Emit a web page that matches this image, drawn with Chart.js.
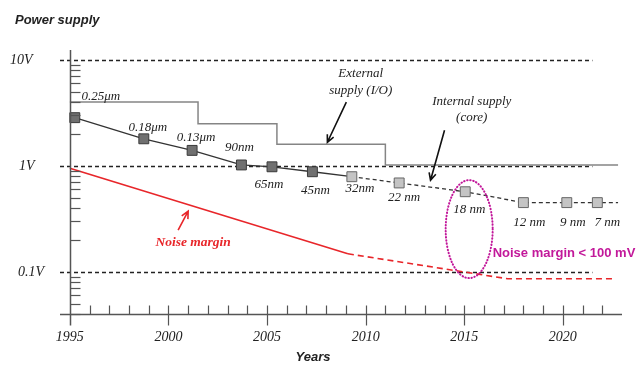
<!DOCTYPE html>
<html lang="en">
<head>
<meta charset="UTF-8" />
<title>Power supply and noise margin</title>
<script src="https://cdn.jsdelivr.net/npm/chart.js"></script>
<style>
  body { margin: 0; background: #fff; }
  #wrap { width: 640px; height: 365px; }
</style>
</head>
<body>
<div id="wrap"><canvas id="chart" width="640" height="365"></canvas></div>
<script>
  // technology nodes on the core supply curve
  const nodeNames = ['0.25μm', '0.18μm', '0.13μm', '90nm', '65nm', '45nm', '32nm', '22 nm', '18 nm', '12 nm', '9 nm', '7 nm'];
  const nodeYears = [1995.25, 1998.75, 2001.2, 2003.7, 2005.25, 2007.3, 2009.3, 2011.7, 2015.05, 2018.0, 2020.2, 2021.75];
  const coreVolts = [2.85, 1.8, 1.4, 1.02, 0.98, 0.88, 0.79, 0.69, 0.57, 0.45, 0.45, 0.45];
  const coreTailYear = 2022.8;
  const firstProjected = 6; // from 32nm on: dashed / light squares

  // external (I/O) supply, stepped
  const ioYears = [1995, 2001.5, 2005.5, 2011.0, 2022.8];
  const ioVolts = [4.0, 2.5, 1.6, 1.02, 1.02];

  // noise margin
  const noiseYears = [1995, 2009.1, 2017.2, 2022.5];
  const noiseVolts = [0.95, 0.148, 0.086, 0.086];

  const yTickVals = [10, 1, 0.1];
  const yTickLabels = ['10V', '1V', '0.1V'];
  const xTickYears = [1995, 2000, 2005, 2010, 2015, 2020];
  const gridEndYear = 2021.5;

  const serif = '"Liberation Serif", "DejaVu Serif", serif';
  const sans = '"Liberation Sans", Arial, sans-serif';

  const coreData = nodeYears.map((yr, i) => ({ x: yr, y: coreVolts[i] }));
  coreData.push({ x: coreTailYear, y: coreVolts[coreVolts.length - 1] });

  function arrow(ctx, x1, y1, x2, y2, color) {
    const a = Math.atan2(y2 - y1, x2 - x1);
    ctx.strokeStyle = color; ctx.lineWidth = 1.6; ctx.setLineDash([]);
    ctx.beginPath(); ctx.moveTo(x1, y1); ctx.lineTo(x2, y2);
    ctx.moveTo(x2 - 8 * Math.cos(a - 0.45), y2 - 8 * Math.sin(a - 0.45));
    ctx.lineTo(x2, y2);
    ctx.lineTo(x2 - 8 * Math.cos(a + 0.45), y2 - 8 * Math.sin(a + 0.45));
    ctx.stroke();
  }

  const decor = {
    id: 'decor',
    beforeDatasetsDraw(chart) {
      const { ctx, scales: { x, y } } = chart;
      ctx.save();
      ctx.strokeStyle = '#222'; ctx.lineWidth = 1.5; ctx.setLineDash([4, 3]);
      yTickVals.forEach(v => {
        const py = Math.round(y.getPixelForValue(v)) + 0.5;
        ctx.beginPath();
        ctx.moveTo(chart.chartArea.left, py);
        ctx.lineTo(x.getPixelForValue(gridEndYear), py);
        ctx.stroke();
      });
      ctx.restore();
    },
    afterDatasetsDraw(chart) {
      const { ctx, chartArea: area, scales: { x, y } } = chart;
      ctx.save();
      const x0 = Math.round(x.getPixelForValue(1995)) + 0.5;
      const yb = Math.round(area.bottom) + 0.5;

      // axes
      ctx.strokeStyle = '#555'; ctx.lineWidth = 1.5; ctx.setLineDash([]);
      ctx.beginPath();
      ctx.moveTo(x0, area.top); ctx.lineTo(x0, yb + 11);
      ctx.moveTo(area.left, yb); ctx.lineTo(area.right, yb);
      ctx.stroke();

      // y minor ticks (inside)
      ctx.lineWidth = 1.2;
      for (let k = -2; k <= 0; k++) {
        for (let m = 2; m <= 9; m++) {
          const v = m * Math.pow(10, k);
          if (v < y.min || v > y.max) continue;
          const py = Math.round(y.getPixelForValue(v)) + 0.5;
          ctx.beginPath(); ctx.moveTo(x0, py); ctx.lineTo(x0 + 10, py); ctx.stroke();
        }
      }
      // x ticks
      for (let yr = 1996; yr <= 2022; yr++) {
        const px = Math.round(x.getPixelForValue(yr)) + 0.5;
        const major = yr % 5 === 0;
        ctx.beginPath(); ctx.moveTo(px, yb - 9); ctx.lineTo(px, major ? yb + 11 : yb); ctx.stroke();
      }

      // tick labels
      ctx.fillStyle = '#222';
      ctx.font = 'italic 14px ' + serif;
      ctx.textBaseline = 'middle';
      ctx.textAlign = 'center';
      xTickYears.forEach(yr => ctx.fillText(String(yr), x.getPixelForValue(yr), yb + 23));
      ctx.textAlign = 'left';
      const yLabelX = [10, 19, 18];
      yTickVals.forEach((v, i) => ctx.fillText(yTickLabels[i], yLabelX[i], y.getPixelForValue(v)));

      // titles
      ctx.font = 'bold italic 13px ' + sans;
      ctx.fillText('Power supply', 15, 20);
      ctx.textAlign = 'center';
      ctx.fillText('Years', 313, 357);

      // node labels
      const offs = [[26, -21], [4, -11], [4, -13], [-2, -17], [-3, 18], [3, 19], [8, 12], [5, 15], [4, 18], [6, 20], [6, 20], [10, 20]];
      const pts = chart.getDatasetMeta(0).data;
      ctx.font = 'italic 13px ' + serif;
      nodeNames.forEach((name, i) => {
        ctx.fillText(name, pts[i].x + offs[i][0], pts[i].y + offs[i][1]);
      });

      // annotations
      const ex = x.getPixelForValue(2009.75), ey = y.getPixelForValue(7.5);
      ctx.fillText('External', ex, ey);
      ctx.fillText('supply (I/O)', ex, ey + 17);
      arrow(ctx, x.getPixelForValue(2009.02), y.getPixelForValue(3.99), x.getPixelForValue(2008.06), y.getPixelForValue(1.67), '#111');

      const ix = x.getPixelForValue(2015.38), iy = y.getPixelForValue(4.08);
      ctx.fillText('Internal supply', ix, iy);
      ctx.fillText('(core)', ix, iy + 16);
      arrow(ctx, x.getPixelForValue(2014.0), y.getPixelForValue(2.17), x.getPixelForValue(2013.29), y.getPixelForValue(0.733), '#111');

      ctx.fillStyle = '#e8262a';
      ctx.font = 'bold italic 13.5px ' + serif;
      ctx.fillText('Noise margin', x.getPixelForValue(2001.25), y.getPixelForValue(0.19));
      arrow(ctx, x.getPixelForValue(2000.49), y.getPixelForValue(0.247), x.getPixelForValue(2001.0), y.getPixelForValue(0.374), '#e8262a');

      // highlight ellipse around 18 nm
      ctx.strokeStyle = '#c2189a'; ctx.lineWidth = 2; ctx.lineCap = 'round';
      ctx.setLineDash([0.5, 2.6]);
      ctx.beginPath();
      ctx.ellipse(x.getPixelForValue(2015.25), y.getPixelForValue(0.253), 23.5, 49, 0, 0, Math.PI * 2);
      ctx.stroke();

      ctx.fillStyle = '#c2189a';
      ctx.font = 'bold 13px ' + sans;
      ctx.textAlign = 'left';
      ctx.fillText('Noise margin < 100 mV', x.getPixelForValue(2016.44), y.getPixelForValue(0.150));
      ctx.restore();
    }
  };

  new Chart(document.getElementById('chart'), {
    type: 'line',
    data: {
      datasets: [
        {
          label: 'Internal supply (core)',
          data: coreData,
          borderColor: '#333',
          borderWidth: 1.3,
          pointStyle: 'rect',
          pointRadius: coreData.map((d, i) => i < nodeYears.length ? 7 : 0),
          pointBackgroundColor: coreData.map((d, i) => i < firstProjected ? '#707070' : '#c4c4c4'),
          pointBorderColor: coreData.map((d, i) => i < firstProjected ? '#3a3a3a' : '#666'),
          pointBorderWidth: 1,
          segment: { borderDash: c => c.p0DataIndex >= firstProjected ? [4, 3] : undefined }
        },
        {
          label: 'External supply (I/O)',
          data: ioYears.map((yr, i) => ({ x: yr, y: ioVolts[i] })),
          borderColor: '#858585',
          borderWidth: 1.5,
          stepped: true,
          pointRadius: 0
        },
        {
          label: 'Noise margin',
          data: noiseYears.map((yr, i) => ({ x: yr, y: noiseVolts[i] })),
          borderColor: '#e8262a',
          borderWidth: 1.6,
          pointRadius: 0,
          segment: { borderDash: c => c.p0DataIndex >= 1 ? [6, 4] : undefined }
        }
      ]
    },
    options: {
      responsive: false,
      animation: false,
      layout: { padding: { left: 60, right: 18, top: 50, bottom: 51 } },
      plugins: { legend: { display: false }, tooltip: { enabled: false } },
      scales: {
        x: { type: 'linear', min: 1994.5, max: 2023, display: false },
        y: { type: 'logarithmic', min: 0.04, max: 12.4, display: false }
      }
    },
    plugins: [decor]
  });
</script>
</body>
</html>
